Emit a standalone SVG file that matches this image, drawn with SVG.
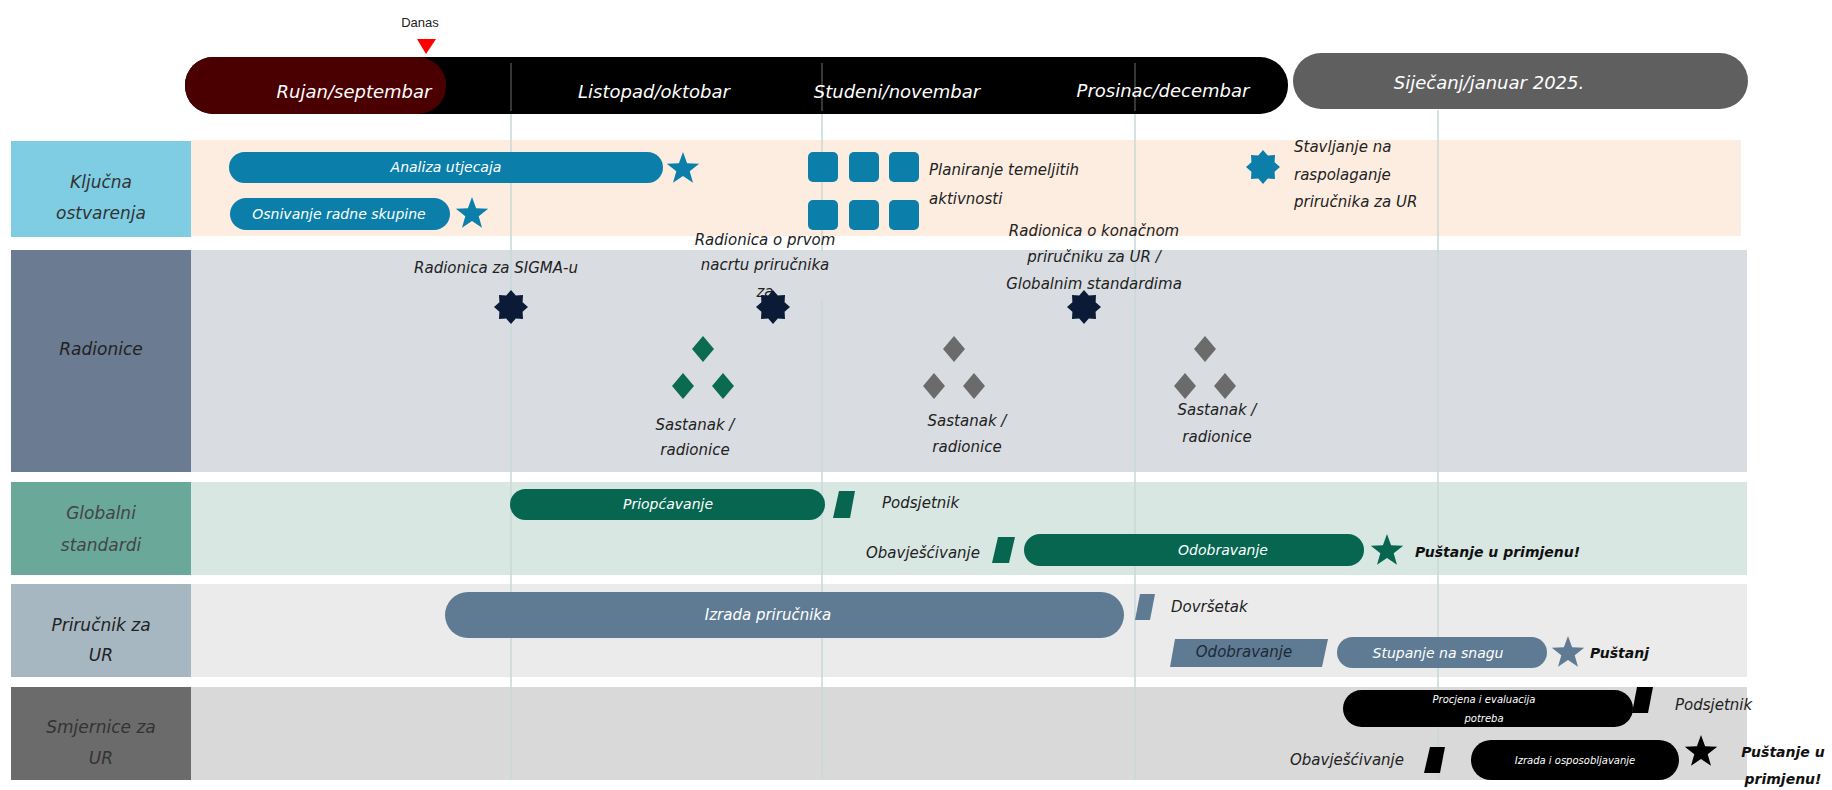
<svg xmlns="http://www.w3.org/2000/svg" xmlns:xlink="http://www.w3.org/1999/xlink" width="1832" height="790" viewBox="0 0 1832 790">
<style>
text{font-family:"DejaVu Sans","Liberation Sans",sans-serif;font-style:italic}
.mon{font-size:18px;fill:#ffffff;text-anchor:middle}
.lab{font-size:17px;fill:#333333;text-anchor:middle}
.bt{font-size:14px;fill:#ffffff;text-anchor:middle}
.t{font-size:15px;fill:#222222}
.tc{font-size:15px;fill:#222222;text-anchor:middle}
.b{font-size:14px;font-weight:bold;fill:#111111}
.sm{font-size:10px;fill:#ffffff;text-anchor:middle}
.vl{stroke:#c9d9d8;stroke-width:1.5}
.vh{stroke:#4a4a4a;stroke-width:1.5}
</style>
<defs>
<polygon id="star5" points="0,-17 4.1,-5.7 16.2,-5.3 6.7,2.2 10,13.8 0,7 -10,13.8 -6.7,2.2 -16.2,-5.3 -4.1,-5.7"/>
<polygon id="seal" points="0,-17 4.8,-11.6 12,-12 11.6,-4.8 17,0 11.6,4.8 12,12 4.8,11.6 0,17 -4.8,11.6 -12,12 -11.6,4.8 -17,0 -11.6,-4.8 -12,-12 -4.8,-11.6"/>
<polygon id="dia" points="0,-13 11,0 0,13 -11,0"/>
</defs>
<rect width="1832" height="790" fill="#ffffff"/>

<g id="header">
<rect x="185" y="57" width="1103" height="57" rx="28" fill="#000000"/>
<rect x="185" y="57" width="261" height="57" rx="28" fill="#4a0000"/>
<rect x="1293" y="53" width="455" height="56" rx="28" fill="#5f5f5f"/>
<line class="vh" x1="511" y1="63" x2="511" y2="111"/>
<line class="vh" x1="822" y1="63" x2="822" y2="111"/>
<line class="vh" x1="1135" y1="63" x2="1135" y2="111"/>
<text class="mon" x="354" y="98">Rujan/septembar</text>
<text class="mon" x="654" y="98">Listopad/oktobar</text>
<text class="mon" x="897" y="98">Studeni/novembar</text>
<text class="mon" x="1163" y="97">Prosinac/decembar</text>
<text class="mon" x="1489" y="89">Siječanj/januar 2025.</text>
</g>

<g id="today">
<text x="420" y="27" style="font-family:'Liberation Sans',sans-serif;font-style:normal;font-size:13px;fill:#222" text-anchor="middle">Danas</text>
<polygon points="417,39 436,39 426,54" fill="#ff0000"/>
</g>

<g id="bands">
<rect x="190" y="140" width="1551" height="96" fill="#fdede0"/>
<rect x="11" y="141" width="180" height="96" fill="#7ecde2"/>
<rect x="190" y="250" width="1557" height="222" fill="#d9dde1"/>
<rect x="11" y="250" width="180" height="222" fill="#6b7b91"/>
<rect x="190" y="482" width="1557" height="93" fill="#d9e7e3"/>
<rect x="11" y="482" width="180" height="93" fill="#6aa89a"/>
<rect x="190" y="584" width="1557" height="93" fill="#ebebeb"/>
<rect x="11" y="584" width="180" height="93" fill="#a7b7c2"/>
<rect x="190" y="687" width="1557" height="93" fill="#d9d9d9"/>
<rect x="11" y="687" width="180" height="93" fill="#6b6b6b"/>
</g>

<g id="gridlines">
<line class="vl" x1="511" y1="114" x2="511" y2="780"/>
<line class="vl" x1="822" y1="114" x2="822" y2="780"/>
<line class="vl" x1="1135" y1="114" x2="1135" y2="780"/>
<line class="vl" x1="1438" y1="110" x2="1438" y2="780"/>
</g>

<g id="row-labels">
<text class="lab" x="101" y="188">Ključna</text>
<text class="lab" x="101" y="219">ostvarenja</text>
<text class="lab" x="101" y="355" style="fill:#222">Radionice</text>
<text class="lab" x="101" y="519" style="fill:#444">Globalni</text>
<text class="lab" x="101" y="551" style="fill:#444">standardi</text>
<text class="lab" x="101" y="631" style="fill:#222">Priručnik za</text>
<text class="lab" x="101" y="661" style="fill:#222">UR</text>
<text class="lab" x="101" y="733">Smjernice za</text>
<text class="lab" x="101" y="764">UR</text>
</g>

<g id="analiza">
<rect x="229" y="152" width="434" height="31" rx="15.5" fill="#0b7fa9"/>
<text class="bt" x="446" y="172">Analiza utjecaja</text>
<use xlink:href="#star5" x="683" y="169" fill="#0b7fa9"/>
</g>
<g id="osnivanje">
<rect x="230" y="198" width="220" height="32" rx="16" fill="#0b7fa9"/>
<text class="bt" x="339" y="219">Osnivanje radne skupine</text>
<use xlink:href="#star5" x="472" y="214" fill="#0b7fa9"/>
</g>
<g id="planiranje">
<rect x="808" y="152" width="30" height="30" rx="5" fill="#0b7fa9"/>
<rect x="849" y="152" width="30" height="30" rx="5" fill="#0b7fa9"/>
<rect x="889" y="152" width="30" height="30" rx="5" fill="#0b7fa9"/>
<rect x="808" y="200" width="30" height="30" rx="5" fill="#0b7fa9"/>
<rect x="849" y="200" width="30" height="30" rx="5" fill="#0b7fa9"/>
<rect x="889" y="200" width="30" height="30" rx="5" fill="#0b7fa9"/>
<text class="t" x="929" y="175">Planiranje temeljitih</text>
<text class="t" x="929" y="204">aktivnosti</text>
</g>
<g id="stavljanje">
<use xlink:href="#seal" x="1263" y="167" fill="#0b7fa9"/>
<text class="t" x="1294" y="152">Stavljanje na</text>
<text class="t" x="1294" y="180">raspolaganje</text>
<text class="t" x="1294" y="207">priručnika za UR</text>
</g>

<g id="radionica-sigma">
<text class="tc" x="496" y="273">Radionica za SIGMA-u</text>
<use xlink:href="#seal" x="511" y="307" fill="#0b1a36"/>
</g>
<g id="radionica-nacrt">
<rect x="812" y="251" width="18" height="50" fill="#d9dde1"/>
<text class="tc" x="765" y="245">Radionica o prvom</text>
<text class="tc" x="765" y="270">nacrtu priručnika</text>
<text class="tc" x="765" y="297">za</text>
<use xlink:href="#seal" x="773" y="307" fill="#0b1a36"/>
</g>
<g id="radionica-konacni">
<text class="tc" x="1094" y="236">Radionica o konačnom</text>
<text class="tc" x="1094" y="262">priručniku za UR /</text>
<text class="tc" x="1094" y="289">Globalnim standardima</text>
<use xlink:href="#seal" x="1084" y="307" fill="#0b1a36"/>
</g>
<g id="sastanak-1">
<use xlink:href="#dia" x="703" y="349" fill="#0b6b50"/>
<use xlink:href="#dia" x="683" y="386" fill="#0b6b50"/>
<use xlink:href="#dia" x="723" y="386" fill="#0b6b50"/>
<text class="tc" x="695" y="430">Sastanak /</text>
<text class="tc" x="695" y="455">radionice</text>
</g>
<g id="sastanak-2">
<use xlink:href="#dia" x="954" y="349" fill="#6b6b6b"/>
<use xlink:href="#dia" x="934" y="386" fill="#6b6b6b"/>
<use xlink:href="#dia" x="974" y="386" fill="#6b6b6b"/>
<text class="tc" x="967" y="426">Sastanak /</text>
<text class="tc" x="967" y="452">radionice</text>
</g>
<g id="sastanak-3">
<use xlink:href="#dia" x="1205" y="349" fill="#6b6b6b"/>
<use xlink:href="#dia" x="1185" y="386" fill="#6b6b6b"/>
<use xlink:href="#dia" x="1225" y="386" fill="#6b6b6b"/>
<text class="tc" x="1217" y="415">Sastanak /</text>
<text class="tc" x="1217" y="442">radionice</text>
</g>

<g id="priopcavanje">
<rect x="510" y="489" width="315" height="31" rx="15.5" fill="#07664f"/>
<text class="bt" x="668" y="509">Priopćavanje</text>
<polygon points="839,491 855,491 850,518 833,518" fill="#07664f"/>
<text class="t" x="882" y="508">Podsjetnik</text>
</g>
<g id="odobravanje-gs">
<text class="t" x="980" y="558" text-anchor="end">Obavješćivanje</text>
<polygon points="998,537 1015,537 1009,563 992,563" fill="#07664f"/>
<rect x="1024" y="534" width="340" height="32" rx="16" fill="#07664f"/>
<text class="bt" x="1223" y="555">Odobravanje</text>
<use xlink:href="#star5" x="1387" y="551" fill="#07664f"/>
<text class="b" x="1415" y="557">Puštanje u primjenu!</text>
</g>

<g id="izrada-prirucnika">
<rect x="445" y="592" width="679" height="46" rx="23" fill="#5e7b93"/>
<text class="bt" x="768" y="620" style="font-size:15px">Izrada priručnika</text>
<polygon points="1140,594 1155,594 1150,620 1135,620" fill="#5e7b93"/>
<text class="t" x="1171" y="612">Dovršetak</text>
</g>
<g id="odobravanje-ur">
<polygon points="1175,639 1328,639 1322,667 1170,667" fill="#5e7b93"/>
<text class="tc" x="1244" y="657" style="fill:#1e2a36">Odobravanje</text>
</g>
<g id="stupanje">
<rect x="1337" y="637" width="210" height="31" rx="15.5" fill="#5e7b93"/>
<text class="bt" x="1438" y="658">Stupanje na snagu</text>
<use xlink:href="#star5" x="1568" y="653" fill="#5e7b93"/>
<text class="b" x="1590" y="658">Puštanj</text>
</g>

<g id="procjena">
<rect x="1343" y="690" width="290" height="37" rx="18.5" fill="#000000"/>
<text class="sm" x="1484" y="703">Procjena i evaluacija</text>
<text class="sm" x="1484" y="722">potreba</text>
<polygon points="1637,687 1653,687 1648,713 1632,713" fill="#000000"/>
<text class="t" x="1675" y="710">Podsjetnik</text>
</g>
<g id="izrada-osposobljavanje">
<text class="t" x="1404" y="765" text-anchor="end">Obavješćivanje</text>
<polygon points="1430,747 1445,747 1440,773 1424,773" fill="#000000"/>
<rect x="1471" y="740" width="208" height="40" rx="20" fill="#000000"/>
<text class="sm" x="1575" y="764">Izrada i osposobljavanje</text>
<use xlink:href="#star5" x="1701" y="752" fill="#000000"/>
<text class="b" x="1783" y="757" text-anchor="middle">Puštanje u</text>
<text class="b" x="1783" y="784" text-anchor="middle">primjenu!</text>
</g>
</svg>
